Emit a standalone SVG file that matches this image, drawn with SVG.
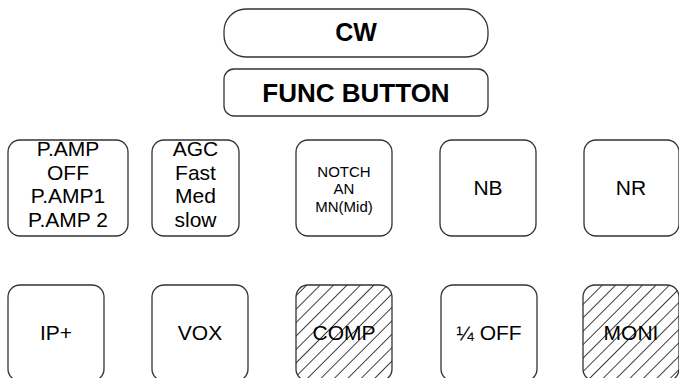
<svg xmlns="http://www.w3.org/2000/svg" width="679" height="378" viewBox="0 0 679 378">
<style>
.box{fill:#fff;stroke:#333;stroke-width:1.3}
.hatch{fill:url(#hatch);stroke:#333;stroke-width:1.3}
text{font-family:"Liberation Sans",Arial,sans-serif;fill:#000;text-anchor:middle}
.big{font-size:25px;font-weight:bold}
.t{font-size:21px}
.s{font-size:15px}
</style>
<defs>
<pattern id="hatch" patternUnits="userSpaceOnUse" width="9.5" height="9.5" patternTransform="rotate(45)">
<rect width="9.5" height="9.5" fill="#fff"/>
<line x1="0" y1="0" x2="0" y2="9.5" stroke="#111" stroke-width="1.6"/>
</pattern>
</defs>
<g id="cw"><rect class="box" x="224" y="9" width="264" height="48" rx="22"/><text class="big" x="356" y="41">CW</text></g>
<g id="func"><rect class="box" x="224" y="69" width="264" height="47" rx="10"/><text class="big" x="356" y="102" style="font-size:26px">FUNC BUTTON</text></g>
<g id="pamp"><rect class="box" x="8" y="140" width="120" height="96" rx="12"/>
<text class="t" x="68" y="156">P.AMP</text><text class="t" x="68" y="179.5">OFF</text><text class="t" x="68" y="203">P.AMP1</text><text class="t" x="68" y="226.5">P.AMP 2</text></g>
<g id="agc"><rect class="box" x="152" y="140" width="87" height="96" rx="12"/>
<text class="t" x="195.5" y="156">AGC</text><text class="t" x="195.5" y="179.5">Fast</text><text class="t" x="195.5" y="203">Med</text><text class="t" x="195.5" y="226.5">slow</text></g>
<g id="notch"><rect class="box" x="296" y="140" width="96" height="96" rx="12"/>
<text class="s" x="344" y="177">NOTCH</text><text class="s" x="344" y="194">AN</text><text class="s" x="344" y="212">MN(Mid)</text></g>
<g id="nb"><rect class="box" x="440" y="140" width="96" height="96" rx="12"/><text class="t" x="488" y="195">NB</text></g>
<g id="nr"><rect class="box" x="584" y="140" width="95" height="96" rx="12"/><text class="t" x="631" y="195">NR</text></g>
<g id="ip"><rect class="box" x="8" y="285" width="96" height="96" rx="12"/><text class="t" x="56" y="340">IP+</text></g>
<g id="vox"><rect class="box" x="152" y="285" width="96" height="96" rx="12"/><text class="t" x="200" y="340">VOX</text></g>
<g id="comp"><rect class="hatch" x="296" y="285" width="96" height="96" rx="12"/><text class="t" x="344" y="340">COMP</text></g>
<g id="quarter"><rect class="box" x="441" y="285" width="96" height="96" rx="12"/><text class="t" x="489" y="340">¼ OFF</text></g>
<g id="moni"><rect class="hatch" x="583" y="285" width="96" height="96" rx="12"/><text class="t" x="631" y="340">MONI</text></g>
<g id="connectors"></g>
</svg>
